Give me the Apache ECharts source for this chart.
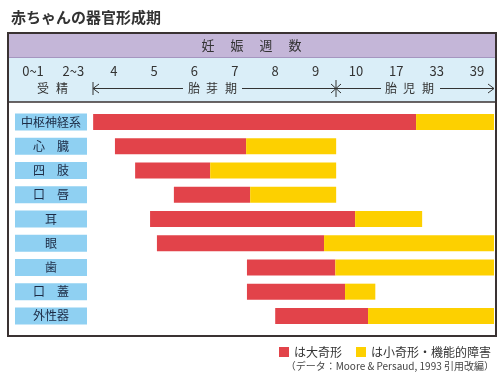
<!DOCTYPE html>
<html><head><meta charset="utf-8">
<script src="https://cdn.jsdelivr.net/npm/echarts@6/dist/echarts.min.js"></script>
<style>html,body{margin:0;padding:0;background:#fff}#c{width:500px;height:378px}</style>
</head><body><div id="c"></div>
<script>
// Week-column tick labels (axis position = column index)
const tickLabels = ['0~1','2~3','4','5','6','7','8','9','10','17','33','39'];
const organs = ['中枢神経系','心　臓','四　肢','口　唇','耳','眼','歯','口　蓋','外性器'];
// bar extents in column-index units
const redStart  = [1.49, 2.03, 2.53, 3.49, 2.90, 3.07, 5.30, 5.30, 6.00];
const redEnd    = [9.49, 5.28, 4.39, 5.38, 7.98, 7.21, 7.49, 7.73, 8.30];
const yellowEnd = [11.42, 7.51, 7.51, 7.51, 9.64, 11.42, 11.42, 8.48, 11.42];
const axisMax = 11.42;

const FONT = '"Noto Sans CJK JP", "Noto Sans", sans-serif';
const RED = '#e2434a', YEL = '#fdd000';

function txt(x, y, s, size, color, align) {
  return {type:'text', x:x, y:y, z:50, silent:true,
    style:{text:s, fill:color||'#333', font:(size||13)+'px '+FONT,
      align:align||'center', verticalAlign:'middle',
      textAlign:align||'center', textVerticalAlign:'middle'}};
}
function line(points, w, color) {
  return {type:'polyline', z:50, silent:true, shape:{points:points},
    style:{stroke:color||'#333', lineWidth:w||1, fill:null}};
}

const graphics = [
  {type:'rect', z:-5, silent:true, shape:{x:8, y:33, width:489, height:24}, style:{fill:'#c4b6d8'}},
  {type:'rect', z:-5, silent:true, shape:{x:8, y:57, width:489, height:45}, style:{fill:'#daeef8'}},
  line([[8,57.5],[497,57.5]], 1, '#a596c0'),
  line([[8,102],[497,102]], 1.5, '#3a3232'),
  {type:'rect', z:60, silent:true, shape:{x:8, y:33, width:488, height:303}, style:{fill:null, stroke:'#3a3232', lineWidth:2}},
  txt(208,45,'妊'), txt(237,45,'娠'), txt(266,45,'週'), txt(295,45,'数'),
  txt(43,88,'受',12), txt(62,88,'精',12),
  txt(194,88,'胎',12), txt(212,88,'芽',12), txt(231,88,'期',12),
  txt(391,88,'胎',12), txt(409,88,'児',12), txt(428,88,'期',12),
  line([[93,82],[93,95]], 1),
  line([[99,84],[93,88.5],[99,93]], 1),
  line([[93,88.5],[183,88.5]], 1),
  line([[242,88.5],[381,88.5]], 1),
  line([[336,80],[336,97]], 1),
  line([[331,84],[341,93]], 1),
  line([[331,93],[341,84]], 1),
  line([[440,88.5],[494,88.5]], 1),
  line([[488,84],[494,88.5],[488,93]], 1),
  txt(494,366,'（データ：Moore & Persaud, 1993 引用改編）',10,'#444','right')
];

const chart = echarts.init(document.getElementById('c'));
chart.setOption({
  animation:false,
  title:{text:'赤ちゃんの器官形成期', left:6, top:5,
    textStyle:{fontSize:15, fontWeight:'bold', color:'#333', fontFamily:FONT}},
  legend:{data:['は大奇形','は小奇形・機能的障害'], right:4, top:341, icon:'rect',
    itemWidth:10, itemHeight:10, itemGap:14,
    textStyle:{fontSize:12, color:'#333', fontFamily:FONT}},
  grid:{left:33, right:6, top:110, height:218, containLabel:false},
  xAxis:{type:'value', position:'top', min:0, max:axisMax, interval:1,
    axisLine:{show:false}, axisTick:{show:false}, splitLine:{show:false},
    axisLabel:{margin:32, fontSize:13, color:'#333', fontFamily:FONT,
      showMaxLabel:false,
      formatter:v => (Math.abs(v - Math.round(v)) < 1e-6 && tickLabels[Math.round(v)] !== undefined && v < axisMax - 0.1) ? tickLabels[Math.round(v)] : ''}},
  yAxis:{type:'category', data:organs, inverse:true,
    axisLine:{show:false}, axisTick:{show:false}, splitLine:{show:false},
    axisLabel:{margin:-18, align:'center', width:72, lineHeight:13, padding:[2,0,2,0],
      backgroundColor:'#8fd0f2', fontSize:12, color:'#1c2a44', fontFamily:FONT}},
  graphic:graphics,
  series:[
    {name:'base', type:'bar', stack:'a', barWidth:16, silent:true,
      itemStyle:{color:'rgba(0,0,0,0)'}, data:redStart},
    {name:'は大奇形', type:'bar', stack:'a', barWidth:16, itemStyle:{color:RED},
      data:redEnd.map((e,i)=>+(e-redStart[i]).toFixed(3))},
    {name:'は小奇形・機能的障害', type:'bar', stack:'a', barWidth:16, itemStyle:{color:YEL},
      data:yellowEnd.map((e,i)=>+(e-redEnd[i]).toFixed(3))}
  ]
});
</script></body></html>
